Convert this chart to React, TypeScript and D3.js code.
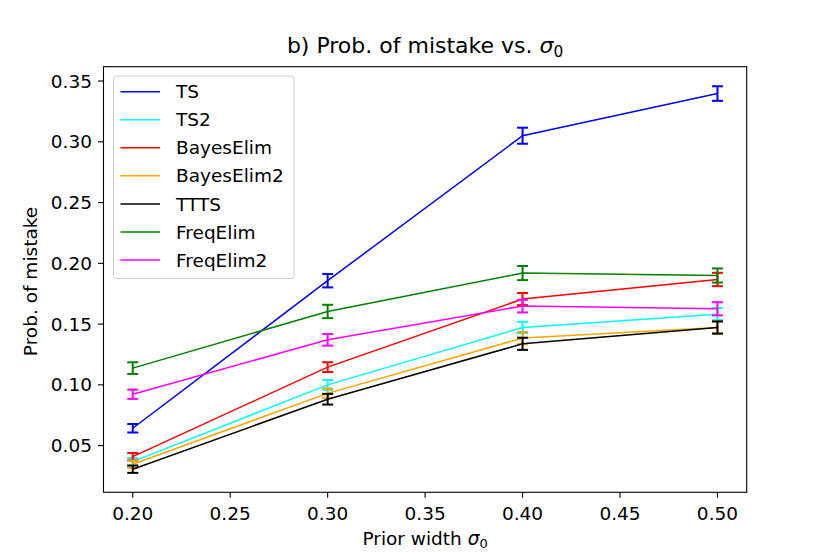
import React from "react";
import * as d3 from "d3";

const sigmas = [0.2, 0.3, 0.4, 0.5];
const seriesNames = ["TS", "TS2", "BayesElim", "BayesElim2", "TTTS", "FreqElim", "FreqElim2"];
const seriesColors = ["#0000ff", "#00ffff", "#ff0000", "#ffa500", "#000000", "#008000", "#ff00ff"];
const tsVals = [0.0643, 0.1857, 0.305, 0.3397];
const tsErr = [0.0035, 0.0055, 0.0066, 0.006];
const ts2Vals = [0.0368, 0.1, 0.1472, 0.1582];
const ts2Err = [0.003, 0.004, 0.0047, 0.005];
const beVals = [0.0409, 0.1146, 0.1706, 0.1867];
const beErr = [0.003, 0.004, 0.005, 0.0055];
const be2Vals = [0.0347, 0.093, 0.1385, 0.1472];
const be2Err = [0.003, 0.004, 0.005, 0.005];
const tttsVals = [0.0306, 0.0882, 0.1338, 0.1472];
const tttsErr = [0.003, 0.0044, 0.005, 0.005];
const feVals = [0.1138, 0.1604, 0.192, 0.19];
const feErr = [0.0048, 0.0055, 0.0058, 0.0058];
const fe2Vals = [0.0923, 0.1371, 0.1648, 0.1626];
const fe2Err = [0.0038, 0.0048, 0.0052, 0.0054];
const xTicks = [0.2, 0.25, 0.3, 0.35, 0.4, 0.45, 0.5];
const yTicks = [0.05, 0.1, 0.15, 0.2, 0.25, 0.3, 0.35];

const allVals = [tsVals, ts2Vals, beVals, be2Vals, tttsVals, feVals, fe2Vals];
const allErr = [tsErr, ts2Err, beErr, be2Err, tttsErr, feErr, fe2Err];

const W = 830, H = 554;
const L = 103.5, R = 746.7, T = 66.7, B = 492.3;
const font = "DejaVu Sans, sans-serif";
const fs = 18.5;

export default function App() {
  const x = d3.scaleLinear().domain([0.185, 0.515]).range([L, R]);
  const y = d3.scaleLinear().domain([0.0116, 0.3618]).range([B, T]);
  const line = d3.line<number>().x((_, i) => x(sigmas[i])).y((v) => y(v));
  const cap = 5.5;
  const legX = 113.5, legY = 76, legW = 180.5, legH = 202.5;
  return (
    <svg width={W} height={H} style={{ position: "absolute", left: 0, top: 0 }} fontFamily={font}>
      <rect width={W} height={H} fill="#fff" />
      {allVals.map((vals, si) => (
        <g key={si}>
          <path d={line(vals) || ""} fill="none" stroke={seriesColors[si]} strokeWidth={1.5} />
          {vals.map((v, i) => {
            const cx = x(sigmas[i]);
            const e = allErr[si][i];
            const y1 = y(v - e), y2 = y(v + e);
            return (
              <g key={i} stroke={seriesColors[si]} strokeWidth={2}>
                <line x1={cx} x2={cx} y1={y1} y2={y2} />
                <line x1={cx - cap} x2={cx + cap} y1={y1} y2={y1} />
                <line x1={cx - cap} x2={cx + cap} y1={y2} y2={y2} />
              </g>
            );
          })}
        </g>
      ))}
      <rect x={L} y={T} width={R - L} height={B - T} fill="none" stroke="#000" strokeWidth={1.1} />
      {xTicks.map((t) => (
        <g key={t}>
          <line x1={x(t)} x2={x(t)} y1={B} y2={B + 5.5} stroke="#000" strokeWidth={1.1} />
          <text x={x(t)} y={520} fontSize={fs} textAnchor="middle">{t.toFixed(2)}</text>
        </g>
      ))}
      {yTicks.map((t) => (
        <g key={t}>
          <line x1={L} x2={L - 5.5} y1={y(t)} y2={y(t)} stroke="#000" strokeWidth={1.1} />
          <text x={L - 11.5} y={y(t) + 6.6} fontSize={fs} textAnchor="end">{t.toFixed(2)}</text>
        </g>
      ))}
      <text x={(L + R) / 2} y={53} fontSize={22} textAnchor="middle">
        b) Prob. of mistake vs. <tspan fontStyle="italic">σ</tspan><tspan fontSize={15.4} dy={3.5}>0</tspan>
      </text>
      <text x={(L + R) / 2} y={545} fontSize={fs} textAnchor="middle">
        Prior width <tspan fontStyle="italic">σ</tspan><tspan fontSize={13} dy={3}>0</tspan>
      </text>
      <text transform={`translate(37,${(T + B) / 2 + 2}) rotate(-90)`} fontSize={fs} textAnchor="middle">Prob. of mistake</text>
      <rect x={legX} y={legY} width={legW} height={legH} rx={3} fill="#fff" fillOpacity={0.8} stroke="#cccccc" strokeWidth={1} />
      {seriesNames.map((n, i) => {
        const cy = 91.7 + i * 28.05;
        return (
          <g key={n}>
            <line x1={120.5} x2={160} y1={cy} y2={cy} stroke={seriesColors[i]} strokeWidth={1.5} />
            <text x={176} y={cy + 6.6} fontSize={fs}>{n}</text>
          </g>
        );
      })}
    </svg>
  );
}
